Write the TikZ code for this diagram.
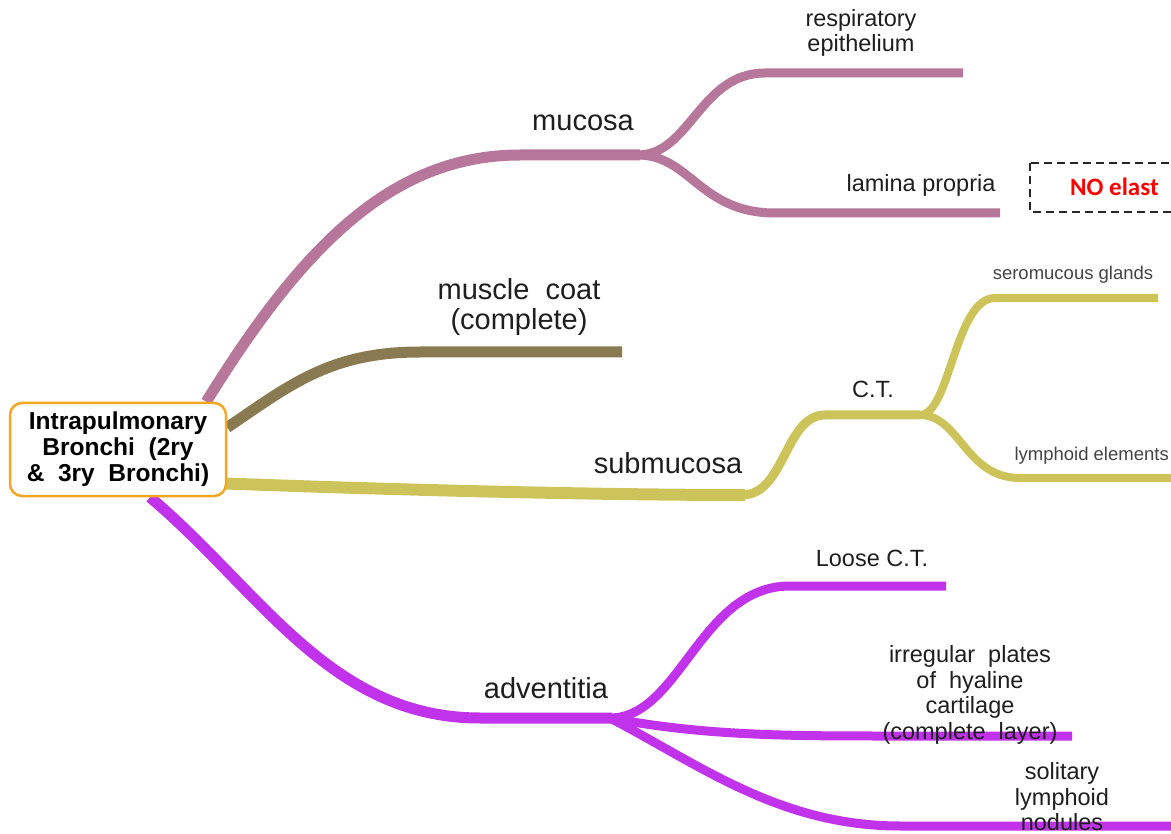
\documentclass[tikz,border=0pt]{standalone}
\usepackage{fontspec}
\setmainfont{Liberation Sans}
\newfontfamily\calib{Carlito}
\usetikzlibrary{calc}
\pgfdeclarelayer{bg}\pgfsetlayers{bg,main}
\definecolor{cmuc}{HTML}{B7779A}
\definecolor{cmus}{HTML}{8A7A52}
\definecolor{csub}{HTML}{CCC45A}
\definecolor{cadv}{HTML}{C033EA}
\definecolor{corg}{HTML}{F5A623}
\definecolor{txt}{HTML}{1E1E1E}
\definecolor{txtg}{HTML}{444444}
\tikzset{
  br/.style={line width=11pt},
  sbr/.style={line width=9pt},
  tbr/.style={line width=8pt},
  lbl/.style={text=txt, align=center, inner sep=0pt},
  big/.style={lbl, font=\fontsize{29}{30}\selectfont},
  mid/.style={lbl, font=\fontsize{23.5}{25.5}\selectfont},
  sml/.style={lbl, text=txtg, font=\fontsize{18.5}{20}\selectfont},
}
\begin{document}
\begin{tikzpicture}[x=1pt,y=-1pt]
\useasboundingbox (0,0) rectangle (1171,834);
\clip (0,0) rectangle (1171,834);

% central node
\node[draw=corg, line width=2.5pt, rounded corners=12pt, fill=white,
      minimum width=216pt, minimum height=93pt, align=center, inner sep=0pt,
      font=\fontsize{24.5}{26}\selectfont\bfseries] (c) at (118,449.5)
  {Intrapulmonary\\Bronchi\ \ (2ry\\\&\ \ 3ry\ \ Bronchi)};

% branch points
\coordinate (muc) at (640,155);
\coordinate (mus) at (622,352);
\coordinate (sub) at (745,495);
\coordinate (ct) at (920,415);
\coordinate (adv) at (612,718);
\coordinate (resp) at (963,73);
\coordinate (lam) at (1000,213);
\coordinate (sero) at (1158,298);
\coordinate (lymph) at (1180,478);
\coordinate (loose) at (946,586);
\coordinate (irr) at (1072,736);
\coordinate (sol) at (1180,826);

% labels
\node[big] (lmuc) at (583,123) {mucosa};
\node[big] (lmus) at (519,307) {muscle\ \ coat\\(complete)};
\node[big] (lsub) at (668,463) {submucosa};
\node[big] (ladv) at (546,688) {adventitia};
\node[mid] (lresp) at (861,33) {respiratory\\epithelium};
\node[mid] (llam) at (921,185) {lamina propria};
\node[mid] (lct) at (873,389) {C.T.};
\node[sml] (lsero) at (1073,275) {seromucous glands};
\node[sml, anchor=east] (llymph) at (1169,456) {lymphoid elements};
\node[mid] (lloose) at (872,558) {Loose C.T.};
\node[mid] (lirr) at (970,695) {irregular\ \ plates\\of\ \ hyaline\\cartilage\\(complete\ \ layer)};
\node[mid] (lsol) at (1062,797) {solitary\\lymphoid\\nodules};

% dashed note box
\draw[dash pattern=on 8pt off 5pt, line width=2pt, black!85] (1030,163) rectangle (1200,212);
\node[anchor=west, inner sep=0pt, text=red, font=\calib\fontsize{25}{26}\selectfont\bfseries] (note) at (1070,187) {NO elast};

\begin{pgfonlayer}{bg}
% mucosa
\draw[br, cmuc] ($(c.north east)+(-21,0)$) .. controls (300,250) and (390,155) .. (520,155) -- (muc);
\draw[sbr, cmuc] ($(muc)+(-2,0)$) .. controls (690,155) and (700,73) .. (765,73) -- (resp);
\draw[sbr, cmuc] ($(muc)+(-2,0)$) .. controls (690,155) and (700,213) .. (775,213) -- (lam);
% muscle coat
\draw[br, cmus] ($(c.east)+(0,-22)$) .. controls (290,385) and (330,352) .. (420,352) -- (mus);
% submucosa
\draw[line width=12pt, csub] ($(c.east)+(-2,34)$) .. controls (400,490) and (600,495) .. (sub);
\draw[sbr, csub] ($(sub)+(-3,0)$) .. controls (785,495) and (785,415) .. (825,415) -- (ct);
\draw[tbr, csub] (ct) .. controls (950,415) and (955,298) .. (995,298) -- (sero);
\draw[tbr, csub] (ct) .. controls (960,415) and (965,478) .. (1020,478) -- (lymph);
% adventitia
\draw[br, cadv] ($(c.south)+(32,0)$) .. controls (260,590) and (330,718) .. (480,718) -- (adv);
\draw[sbr, cadv] ($(adv)+(-2,0)$) .. controls (680,718) and (700,586) .. (790,586) -- (loose);
\draw[sbr, cadv] ($(adv)+(-2,0)$) .. controls (700,735) and (780,736) .. (880,736) -- (irr);
\draw[sbr, cadv] ($(adv)+(-2,0)$) .. controls (700,765) and (780,826) .. (900,826) -- (sol);
\end{pgfonlayer}
\end{tikzpicture}
\end{document}
